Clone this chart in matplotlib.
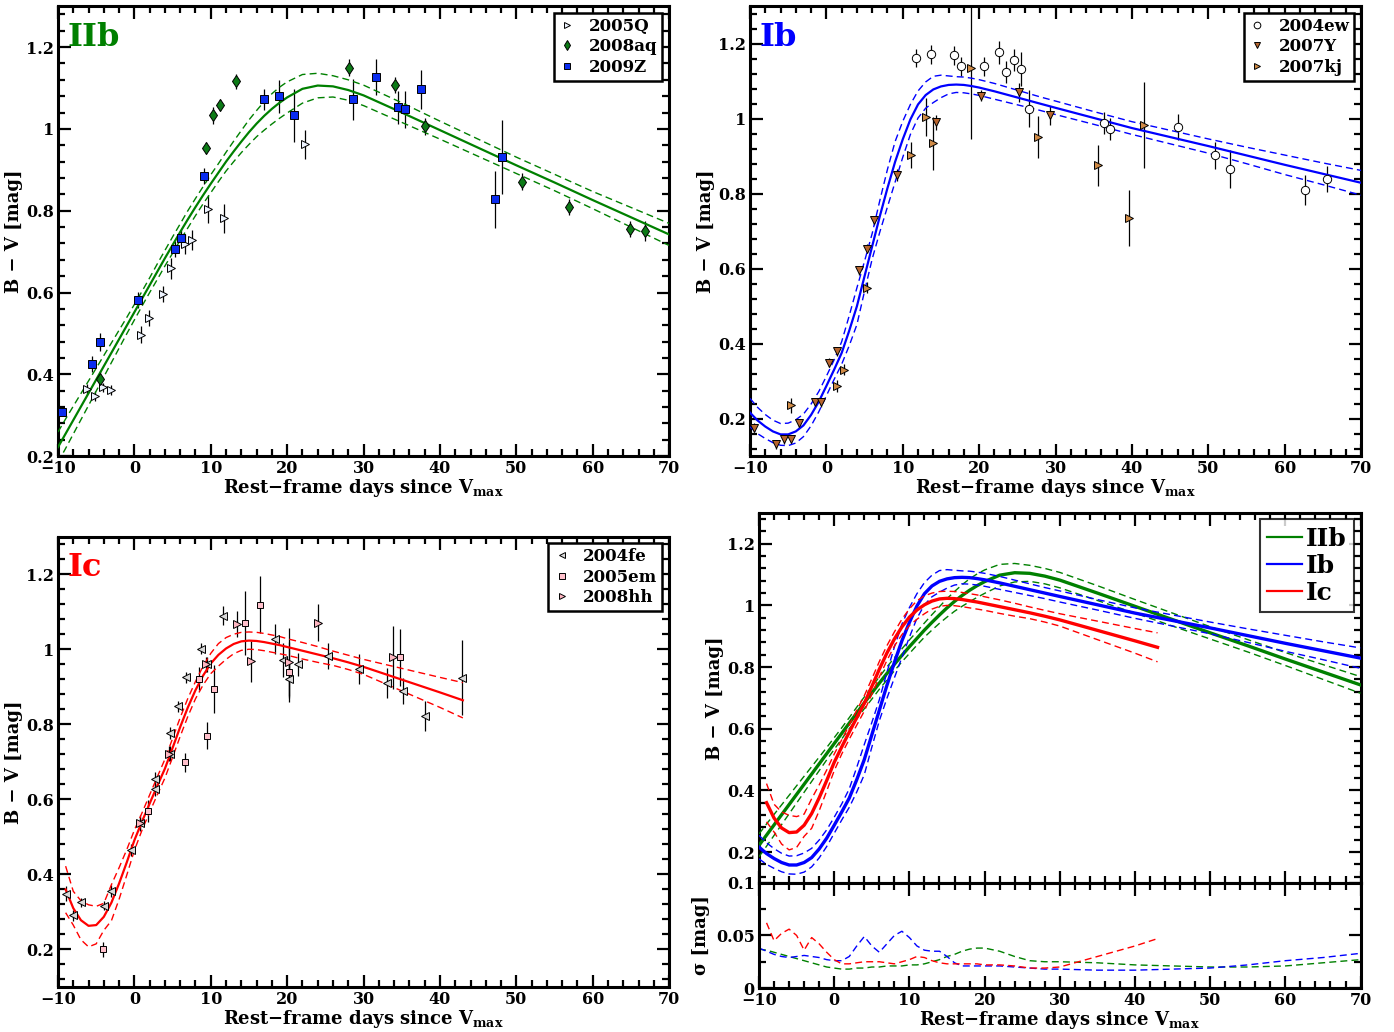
import matplotlib
matplotlib.use("Agg")
import matplotlib.pyplot as plt
import numpy as np
from matplotlib.ticker import MultipleLocator, FuncFormatter
from matplotlib.lines import Line2D

plt.rcParams["font.family"] = "DejaVu Serif"
plt.rcParams["font.weight"] = "bold"
plt.rcParams["mathtext.fontset"] = "custom"
plt.rcParams["mathtext.rm"] = "DejaVu Serif:bold"
plt.rcParams["mathtext.bf"] = "DejaVu Serif:bold"

GREEN, BLUE, RED = "#008000", "#0000ff", "#ff0000"

# ---- template fits ----
X_GRID = [-10, -9, -8, -7, -6, -5, -4, -3, -2, -1, 0, 1, 2, 3, 4, 5, 6, 7, 8, 9,
          10, 11, 12, 13, 14, 15, 16, 17, 18, 19, 20, 22, 24, 26, 28, 30,
          35, 40, 45, 50, 55, 60, 65, 70]
IIB_FIT = [0.222, 0.255, 0.288, 0.321, 0.354, 0.387, 0.420, 0.453, 0.486, 0.519,
           0.552, 0.585, 0.618, 0.651, 0.684, 0.716, 0.748, 0.779, 0.809, 0.838,
           0.866, 0.893, 0.920, 0.945, 0.969, 0.992, 1.013, 1.032, 1.049, 1.064,
           1.077, 1.098, 1.106, 1.104, 1.095, 1.082,
           1.040, 0.997, 0.954, 0.911, 0.869, 0.826, 0.784, 0.742]
IIB_SIG = [0.037, 0.036, 0.034, 0.032, 0.030, 0.028, 0.026, 0.024, 0.022, 0.020,
           0.019, 0.018, 0.018, 0.019, 0.019, 0.020, 0.020, 0.021, 0.021, 0.021,
           0.022, 0.022, 0.023, 0.025, 0.027, 0.030, 0.032, 0.035, 0.037, 0.038,
           0.038, 0.035, 0.030, 0.026, 0.025, 0.025,
           0.024, 0.022, 0.021, 0.020, 0.020, 0.021, 0.024, 0.027]
IB_FIT = [0.216, 0.195, 0.179, 0.166, 0.158, 0.158, 0.166, 0.182, 0.210, 0.245,
          0.287, 0.330, 0.375, 0.435, 0.500, 0.580, 0.660, 0.740, 0.815, 0.885,
          0.945, 0.998, 1.038, 1.063, 1.078, 1.086, 1.090, 1.091, 1.090, 1.087,
          1.083, 1.073, 1.062, 1.051, 1.040, 1.029,
          1.002, 0.975, 0.951, 0.927, 0.902, 0.877, 0.853, 0.829]
IB_SIG = [0.038, 0.035, 0.032, 0.030, 0.029, 0.030, 0.031, 0.030, 0.029, 0.027,
          0.026, 0.026, 0.030, 0.040, 0.049, 0.040, 0.034, 0.042, 0.050, 0.054,
          0.048, 0.040, 0.036, 0.035, 0.035, 0.030, 0.024, 0.021, 0.021, 0.021,
          0.021, 0.021, 0.020, 0.019, 0.018, 0.018,
          0.017, 0.017, 0.018, 0.019, 0.022, 0.026, 0.029, 0.033]
X_GRID_IC = [-9, -8, -7, -6, -5, -4, -3, -2, -1, 0, 1, 2, 3, 4, 5, 6, 7, 8, 9,
             10, 11, 12, 13, 14, 15, 16, 17, 18, 19, 20, 22, 24, 26, 28, 30, 35, 40, 43]
IC_FIT = [0.360, 0.310, 0.278, 0.263, 0.265, 0.287, 0.325, 0.376, 0.432,
          0.491, 0.541, 0.589, 0.636, 0.682, 0.737, 0.793, 0.845, 0.891, 0.930,
          0.962, 0.985, 1.002, 1.014, 1.021, 1.023, 1.022, 1.019, 1.015, 1.011,
          1.006, 0.996, 0.986, 0.976, 0.965, 0.953, 0.919, 0.885, 0.864]
IC_SIG = [0.062, 0.045, 0.052, 0.056, 0.050, 0.036, 0.048, 0.042, 0.034,
          0.027, 0.023, 0.023, 0.024, 0.025, 0.025, 0.025, 0.024, 0.023, 0.025,
          0.027, 0.030, 0.029, 0.026, 0.024, 0.023, 0.023, 0.023, 0.023, 0.023,
          0.022, 0.022, 0.021, 0.019, 0.019, 0.020, 0.030, 0.040, 0.047]

# ---- IIb photometry ----
SN2005Q_T = [-6.15, -5.1, -4.1, -3.1, 0.92, 1.9, 3.8, 4.77, 6.67, 7.6, 9.65, 11.67, 22.36]
SN2005Q_C = [0.364, 0.348, 0.368, 0.361, 0.497, 0.537, 0.597, 0.659, 0.719, 0.729, 0.804, 0.781, 0.962]
SN2005Q_E = [0.012, 0.012, 0.012, 0.012, 0.02, 0.02, 0.02, 0.025, 0.025, 0.025, 0.035, 0.035, 0.035]
SN2008AQ_T = [-4.54, 9.37, 10.29, 11.26, 13.28, 28.1, 34.14, 38.0, 50.8, 56.84, 64.83, 66.78]
SN2008AQ_C = [0.389, 0.954, 1.033, 1.059, 1.116, 1.150, 1.108, 1.006, 0.871, 0.809, 0.756, 0.750]
SN2008AQ_E = [0.02, 0.015, 0.02, 0.015, 0.018, 0.02, 0.02, 0.02, 0.02, 0.02, 0.02, 0.025]
SN2009Z_T = [-9.43, -5.52, -4.54, 0.46, 5.34, 6.09, 9.08, 17.0, 18.9, 20.86, 28.6, 31.6,
             34.5, 35.46, 37.47, 47.2, 48.16]
SN2009Z_C = [0.307, 0.426, 0.478, 0.582, 0.706, 0.734, 0.885, 1.072, 1.080, 1.033, 1.072,
             1.127, 1.053, 1.048, 1.097, 0.828, 0.932]
SN2009Z_E = [0.01, 0.02, 0.022, 0.02, 0.02, 0.02, 0.02, 0.025, 0.04, 0.065, 0.05, 0.045,
             0.04, 0.045, 0.048, 0.07, 0.09]

# ---- Ib photometry ----
SN2004EW_T = [11.71, 13.71, 16.7, 17.64, 20.58, 22.57, 23.57, 24.57, 25.5, 26.56,
              36.3, 37.18, 46.04, 50.9, 52.85, 62.65, 65.53]
SN2004EW_C = [1.162, 1.172, 1.169, 1.140, 1.140, 1.177, 1.124, 1.156, 1.132, 1.027,
              0.988, 0.973, 0.978, 0.902, 0.866, 0.811, 0.839]
SN2004EW_E = [0.025, 0.025, 0.025, 0.025, 0.025, 0.03, 0.03, 0.03, 0.045, 0.05,
              0.03, 0.03, 0.035, 0.035, 0.05, 0.04, 0.035]
SN2007Y_T = [-9.53, -6.54, -5.6, -4.6, -3.6, -1.49, -0.67, 0.33, 1.33, 4.32, 5.32, 6.3,
             9.3, 14.3, 20.28, 25.27, 29.26]
SN2007Y_C = [0.176, 0.132, 0.145, 0.145, 0.188, 0.244, 0.244, 0.349, 0.380, 0.596, 0.653,
             0.729, 0.850, 0.991, 1.061, 1.070, 1.009]
SN2007Y_E = [0.012, 0.012, 0.012, 0.012, 0.012, 0.012, 0.012, 0.012, 0.012, 0.012, 0.012,
             0.012, 0.015, 0.02, 0.015, 0.025, 0.025]
SN2007KJ_T = [-4.6, 1.33, 2.32, 5.32, 11.07, 13.06, 14.0, 18.93, 27.73, 35.6, 39.59, 41.53]
SN2007KJ_C = [0.236, 0.287, 0.331, 0.549, 0.903, 1.005, 0.934, 1.135, 0.951, 0.876, 0.736, 0.983]
SN2007KJ_E = [0.02, 0.015, 0.015, 0.015, 0.035, 0.05, 0.07, 0.19, 0.055, 0.055, 0.075, 0.115]

# ---- Ic photometry ----
SN2004FE_T = [-8.97, -7.99, -7.0, -4.02, -3.1, -0.4, 0.69, 2.64, 2.64, 4.66, 4.66, 5.69,
              6.72, 8.68, 9.54, 11.6, 18.4, 19.4, 20.3, 21.4, 25.3, 29.4, 33.1, 35.1, 38.0, 42.9]
SN2004FE_C = [0.349, 0.291, 0.326, 0.317, 0.356, 0.465, 0.537, 0.653, 0.628, 0.777, 0.722,
              0.848, 0.925, 1.001, 0.960, 1.089, 1.026, 0.971, 0.920, 0.960, 0.982, 0.948,
              0.909, 0.889, 0.823, 0.924]
SN2004FE_E = [0.02, 0.015, 0.012, 0.012, 0.015, 0.015, 0.02, 0.02, 0.02, 0.015, 0.02,
              0.015, 0.015, 0.015, 0.02, 0.025, 0.04, 0.045, 0.05, 0.03, 0.035, 0.04,
              0.04, 0.035, 0.04, 0.1]
SN2005EM_T = [-4.14, 1.84, 6.67, 8.5, 9.54, 10.46, 14.48, 16.44, 20.23, 34.83]
SN2005EM_C = [0.200, 0.569, 0.699, 0.922, 0.770, 0.894, 1.069, 1.119, 0.939, 0.978]
SN2005EM_E = [0.02, 0.03, 0.025, 0.03, 0.035, 0.065, 0.085, 0.075, 0.08, 0.075]
SN2008HH_T = [0.69, 4.5, 9.4, 13.4, 15.3, 20.2, 24.1, 33.85]
SN2008HH_C = [0.537, 0.722, 0.960, 1.067, 0.968, 0.966, 1.071, 0.978]
SN2008HH_E = [0.015, 0.02, 0.02, 0.035, 0.055, 0.09, 0.05, 0.085]

XLABEL = "Rest\u2212frame days since V$_{\\mathrm{max}}$"
YLABEL = "B \u2212 V [mag]"

fmt = FuncFormatter(lambda v, p: f"{v:g}".replace("-", "\u2212"))


def style(ax, ylim, ymaj, ymin, xlabels=True):
    ax.set_xlim(-10, 70)
    ax.set_ylim(*ylim)
    ax.xaxis.set_major_locator(MultipleLocator(10))
    ax.xaxis.set_minor_locator(MultipleLocator(2))
    ax.yaxis.set_major_locator(MultipleLocator(ymaj))
    ax.yaxis.set_minor_locator(MultipleLocator(ymin))
    ax.tick_params(which="both", direction="in", top=True, right=True, width=1.6,
                   labelsize=11.5, pad=3)
    ax.tick_params(which="major", length=9)
    ax.tick_params(which="minor", length=5)
    ax.xaxis.set_major_formatter(fmt)
    ax.yaxis.set_major_formatter(fmt)
    if not xlabels:
        ax.tick_params(labelbottom=False)
    for s in ax.spines.values():
        s.set_linewidth(2.2)


def fit_lines(ax, x, fit, sig, color, lw=1.6):
    fit, sig = np.array(fit), np.array(sig)
    ax.plot(x, fit, color=color, lw=lw, zorder=4)
    ax.plot(x, fit + sig, color=color, lw=1.0, ls=(0, (5, 3)), zorder=4)
    ax.plot(x, fit - sig, color=color, lw=1.0, ls=(0, (5, 3)), zorder=4)


def points(ax, t, c, e, marker, fc, label, ms=6):
    ax.errorbar(t, c, yerr=e, fmt="none", ecolor="k", elinewidth=0.9, capsize=0, zorder=2)
    ax.plot(t, c, ls="none", marker=marker, mfc=fc, mec="k", mew=0.7, ms=ms,
            label=label, zorder=5)


def legend(ax, fs=12):
    leg = ax.legend(loc="upper right", fontsize=fs, frameon=True, fancybox=False,
                    handlelength=1.0, handletextpad=0.8, borderpad=0.3,
                    labelspacing=0.2, borderaxespad=0.4, markerscale=0.8)
    leg.get_frame().set_edgecolor("k")
    leg.get_frame().set_linewidth(1.8)
    leg.get_frame().set_alpha(1)
    for t in leg.get_texts():
        t.set_fontweight("bold")


def labels(ax):
    ax.set_xlabel(XLABEL, fontsize=13, fontweight="bold", labelpad=0)
    ax.set_ylabel(YLABEL, fontsize=13, fontweight="bold", labelpad=2)


fig = plt.figure(figsize=(13.94, 10.32), dpi=100)

# IIb
ax1 = fig.add_axes([0.0416, 0.558, 0.4384, 0.436])
fit_lines(ax1, X_GRID, IIB_FIT, IIB_SIG, GREEN)
points(ax1, SN2005Q_T, SN2005Q_C, SN2005Q_E, ">", "#eef4ff", "2005Q")
points(ax1, SN2008AQ_T, SN2008AQ_C, SN2008AQ_E, "d", "#0c7a16", "2008aq")
points(ax1, SN2009Z_T, SN2009Z_C, SN2009Z_E, "s", "#0a2cf0", "2009Z", ms=5.5)
style(ax1, (0.2, 1.3), 0.2, 0.04)
legend(ax1)
labels(ax1)
ax1.text(0.016, 0.965, "IIb", transform=ax1.transAxes, color=GREEN, fontsize=23,
         fontweight="bold", va="top", ha="left")

# Ib
ax2 = fig.add_axes([0.538, 0.558, 0.4384, 0.436])
fit_lines(ax2, X_GRID, IB_FIT, IB_SIG, BLUE)
points(ax2, SN2004EW_T, SN2004EW_C, SN2004EW_E, "o", "white", "2004ew")
points(ax2, SN2007Y_T, SN2007Y_C, SN2007Y_E, "v", "#b8652e", "2007Y")
points(ax2, SN2007KJ_T, SN2007KJ_C, SN2007KJ_E, ">", "#d08a45", "2007kj")
style(ax2, (0.1, 1.3), 0.2, 0.04)
legend(ax2)
labels(ax2)
ax2.text(0.016, 0.965, "Ib", transform=ax2.transAxes, color=BLUE, fontsize=23,
         fontweight="bold", va="top", ha="left")

# Ic
ax3 = fig.add_axes([0.0416, 0.0436, 0.4384, 0.4364])
fit_lines(ax3, X_GRID_IC, IC_FIT, IC_SIG, RED)
points(ax3, SN2004FE_T, SN2004FE_C, SN2004FE_E, "<", "#d9d9d9", "2004fe")
points(ax3, SN2005EM_T, SN2005EM_C, SN2005EM_E, "s", "#ffc0cb", "2005em", ms=5)
points(ax3, SN2008HH_T, SN2008HH_C, SN2008HH_E, ">", "#ffb6c1", "2008hh")
style(ax3, (0.1, 1.3), 0.2, 0.04)
legend(ax3)
labels(ax3)
ax3.text(0.016, 0.965, "Ic", transform=ax3.transAxes, color=RED, fontsize=23,
         fontweight="bold", va="top", ha="left")

# comparison + sigma
ax4 = fig.add_axes([0.5445, 0.1445, 0.4315, 0.3585])
ax5 = fig.add_axes([0.5445, 0.0426, 0.4315, 0.1019], sharex=ax4)
fit_lines(ax4, X_GRID, IIB_FIT, IIB_SIG, GREEN, lw=2.4)
fit_lines(ax4, X_GRID, IB_FIT, IB_SIG, BLUE, lw=2.4)
fit_lines(ax4, X_GRID_IC, IC_FIT, IC_SIG, RED, lw=2.4)
style(ax4, (0.1, 1.3), 0.2, 0.04, xlabels=False)
ax4.set_ylabel(YLABEL, fontsize=13, fontweight="bold", labelpad=2)
handles = [Line2D([], [], color=GREEN, lw=1.6), Line2D([], [], color=BLUE, lw=1.6),
           Line2D([], [], color=RED, lw=1.6)]
leg = ax4.legend(handles, ["IIb", "Ib", "Ic"], loc="upper right", fontsize=18,
                 frameon=True, fancybox=False, handlelength=1.4, handletextpad=0.15,
                 borderpad=0.3, labelspacing=0.12, borderaxespad=0.25)
leg.get_frame().set_edgecolor("k")
leg.get_frame().set_linewidth(1.5)
for t in leg.get_texts():
    t.set_fontweight("bold")

ax5.plot(X_GRID, IIB_SIG, color=GREEN, lw=1.0, ls=(0, (5, 3)))
ax5.plot(X_GRID, IB_SIG, color=BLUE, lw=1.0, ls=(0, (5, 3)))
ax5.plot(X_GRID_IC, IC_SIG, color=RED, lw=1.0, ls=(0, (5, 3)))
style(ax5, (0, 0.1), 0.05, 0.025)
ax5.set_xlabel(XLABEL, fontsize=13, fontweight="bold", labelpad=0)
ax5.set_ylabel("\u03c3 [mag]", fontsize=13, fontweight="bold", labelpad=4)

plt.savefig("out.png", dpi=100)
